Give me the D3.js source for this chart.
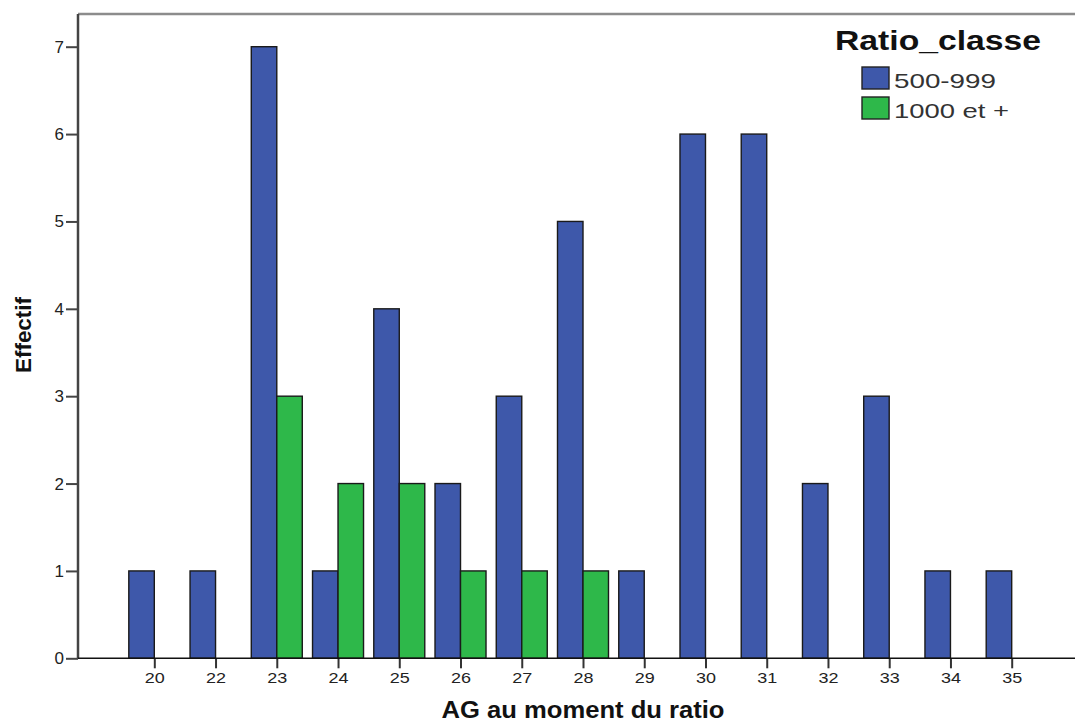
<!DOCTYPE html>
<html>
<head>
<meta charset="utf-8">
<script src="https://cdn.jsdelivr.net/npm/d3@7"></script>
<style>
  html, body { margin: 0; padding: 0; background: #fff; }
  svg { display: block; font-family: Arial, "Liberation Sans", sans-serif; }
</style>
</head>
<body>
<svg id="chart" width="1075" height="723"></svg>
<script>
const categories = ["20","22","23","24","25","26","27","28","29","30","31","32","33","34","35"];
const series500 = [1,1,7,1,4,2,3,5,1,6,6,2,3,1,1];
const series1000 = [0,0,3,2,2,1,1,1,0,0,0,0,0,0,0];
const seriesNames = ["500-999", "1000 et +"];
const seriesColors = ["#3E58AA", "#2EB84A"];
const yTicks = [0,1,2,3,4,5,6,7];
const xTitle = "AG au moment du ratio";
const yTitle = "Effectif";
const legendTitle = "Ratio_classe";

const svg = d3.select("#chart");
const plotLeft = 78, plotRight = 1075, plotTop = 14, plotBottom = 658.3;
const barW = 25.5;

const x = d3.scalePoint().domain(categories).range([154.3, 1011.7]);
const y = d3.scaleLinear().domain([0, 7]).range([plotBottom, 46.7]);

// top frame line
svg.append("line")
  .attr("x1", plotLeft).attr("x2", plotRight)
  .attr("y1", plotTop).attr("y2", plotTop)
  .attr("stroke", "#8c8c8c").attr("stroke-width", 2.5);

// bars
const data = categories.map((c, i) => ({ c, v: [series500[i], series1000[i]] }));
const g = svg.append("g");
[0, 1].forEach(s => {
  g.selectAll(".bar" + s)
    .data(data.filter(d => d.v[s] > 0))
    .enter().append("rect")
    .attr("x", d => x(d.c) + (s === 0 ? -barW : 0))
    .attr("y", d => y(d.v[s]))
    .attr("width", barW)
    .attr("height", d => y(0) - y(d.v[s]))
    .attr("fill", seriesColors[s])
    .attr("stroke", "#1a1a1a")
    .attr("stroke-width", 1.4);
});

// y axis
const yAxis = svg.append("g")
  .attr("transform", `translate(${plotLeft},0)`)
  .call(d3.axisLeft(y).tickValues(yTicks).tickFormat(d3.format("d")).tickSize(12).tickSizeOuter(0).tickPadding(2));
yAxis.select(".domain").remove();
yAxis.selectAll(".tick line").attr("stroke", "#444").attr("stroke-width", 2);
yAxis.selectAll(".tick text").style("font-size", "17px").attr("fill", "#222").style("font-family", "Arial, 'Liberation Sans', sans-serif");
svg.append("line")
  .attr("x1", plotLeft).attr("x2", plotLeft)
  .attr("y1", plotTop).attr("y2", plotBottom)
  .attr("stroke", "#444").attr("stroke-width", 2.5);

// x axis
const xAxis = svg.append("g")
  .attr("transform", `translate(0,${plotBottom})`)
  .call(d3.axisBottom(x).tickSize(10).tickSizeOuter(0).tickPadding(4));
xAxis.select(".domain").remove();
xAxis.selectAll(".tick line").attr("stroke", "#333").attr("stroke-width", 2);
xAxis.selectAll(".tick text")
  .style("font-size", "15px").attr("fill", "#222")
  .style("font-family", "Arial, 'Liberation Sans', sans-serif")
  .attr("textLength", 20).attr("lengthAdjust", "spacingAndGlyphs");
svg.append("line")
  .attr("x1", plotLeft).attr("x2", plotRight)
  .attr("y1", plotBottom).attr("y2", plotBottom)
  .attr("stroke", "#111").attr("stroke-width", 1.6);

// axis titles
svg.append("text")
  .attr("x", 583).attr("y", 718)
  .attr("text-anchor", "middle")
  .attr("font-size", 23).attr("font-weight", "bold").attr("fill", "#111")
  .attr("textLength", 283).attr("lengthAdjust", "spacingAndGlyphs")
  .text(xTitle);
svg.append("text")
  .attr("transform", "translate(31,335) rotate(-90)")
  .attr("text-anchor", "middle")
  .attr("font-size", 22).attr("font-weight", "bold").attr("fill", "#111")
  .attr("textLength", 76).attr("lengthAdjust", "spacingAndGlyphs")
  .text(yTitle);

// legend
const leg = svg.append("g");
leg.append("text")
  .attr("x", 835).attr("y", 50)
  .attr("font-size", 28).attr("font-weight", "bold").attr("fill", "#111")
  .attr("textLength", 206).attr("lengthAdjust", "spacingAndGlyphs")
  .text(legendTitle);
const legLens = [102, 115];
seriesNames.forEach((n, i) => {
  const top = 67 + i * 30;
  leg.append("rect")
    .attr("x", 862).attr("y", top).attr("width", 27).attr("height", 22)
    .attr("fill", seriesColors[i]).attr("stroke", "#222").attr("stroke-width", 1.4);
  leg.append("text")
    .attr("x", 894).attr("y", top + 21)
    .attr("font-size", 21).attr("fill", "#333")
    .attr("textLength", legLens[i]).attr("lengthAdjust", "spacingAndGlyphs")
    .text(n);
});
</script>
</body>
</html>
